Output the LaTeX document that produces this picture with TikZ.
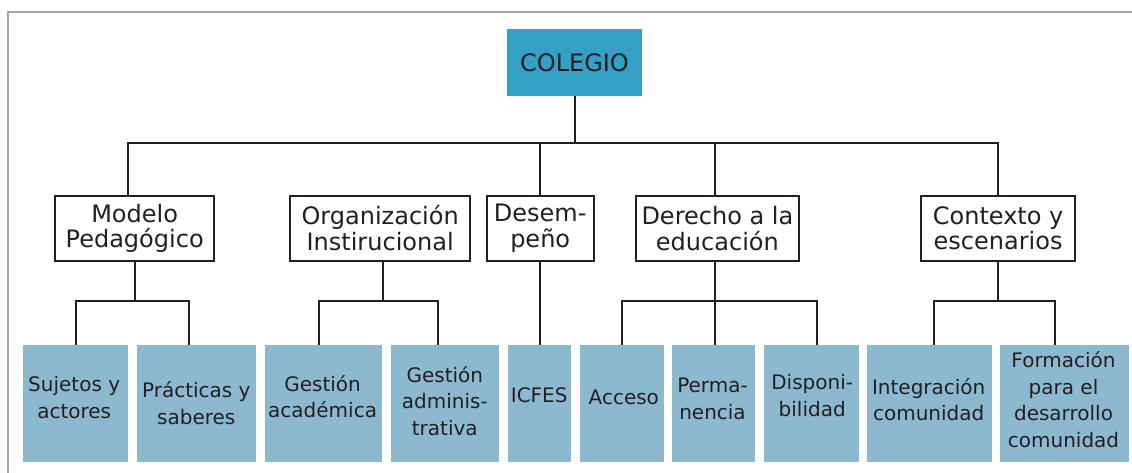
\documentclass[tikz,border=0pt]{standalone}
\usepackage{fontspec}
\setmainfont{DejaVu Sans}
\definecolor{ink}{HTML}{231F20}
\definecolor{topblue}{HTML}{35A0C5}
\definecolor{leafblue}{HTML}{8DB9D0}
\definecolor{framegray}{HTML}{A5A5A5}
\begin{document}
\begin{tikzpicture}[x=1pt,y=-1pt,
  conn/.style={draw=ink, line width=2pt},
  rootbox/.style={fill=topblue, inner sep=0pt, text=ink, font=\fontsize{24}{28}\selectfont},
  catbox/.style={draw=ink, line width=2pt, fill=white, inner sep=0pt, align=center, text=ink,
                 font=\fontsize{24}{25.7}\selectfont, minimum height=64.7pt},
  leafbox/.style={fill=leafblue, inner sep=0pt, minimum height=116.7pt},
  leaftext/.style={align=center, text=ink, inner sep=0pt, font=\fontsize{20}{26.7}\selectfont}]
\useasboundingbox (0,0) rectangle (1132,473);
% frame
\draw[framegray, line width=2pt] (8,473) -- (8,12) -- (1132,12);
% root
\node[rootbox, minimum width=135pt, minimum height=66.7pt] (colegio) at (574.5,62.4) {COLEGIO};
% categories
\node[catbox, minimum width=159.3pt] (modelo)    at (134.65,228.35) {Modelo\\Pedagógico};
\node[catbox, minimum width=179.7pt] (org)       at (380.15,228.35) {Organización\\Instirucional};
\node[catbox, minimum width=107pt]   (desempeno) at (540.2,228.35)  {Desem-\\peño};
\node[catbox, minimum width=163.2pt] (derecho)   at (717.4,228.35)  {Derecho a la\\educación};
\node[catbox, minimum width=154.2pt] (contexto)  at (998.1,228.35)  {Contexto y\\escenarios};
% leaves
\node[leafbox, minimum width=105pt]   (sujetos)   at (75.5,403.35)  {};
\node[leafbox, minimum width=119pt]   (practicas) at (196.5,403.35) {};
\node[leafbox, minimum width=116.7pt] (gacad)     at (323.35,403.35) {};
\node[leafbox, minimum width=108pt]   (gadm)      at (445,403.35)   {};
\node[leafbox, minimum width=62.4pt]  (icfes)     at (539.5,403.35) {};
\node[leafbox, minimum width=84pt]    (acceso)    at (622,403.35)   {};
\node[leafbox, minimum width=83pt]    (perm)      at (713.5,403.35) {};
\node[leafbox, minimum width=95pt]    (disp)      at (811.5,403.35) {};
\node[leafbox, minimum width=125pt]   (integ)     at (929.5,403.35) {};
\node[leafbox, minimum width=128.4pt] (form)      at (1064.5,403.35) {};
% leaf texts
\node[leaftext] (tsujetos)   at (74.2,397.5)   {Sujetos y\\actores};
\node[leaftext] (tpracticas) at (196.3,403)    {Prácticas y\\saberes};
\node[leaftext] (tgacad)     at (322.6,396.5)  {Gestión\\académica};
\node[leaftext] (tgadm)      at (444.8,401)    {Gestión\\adminis-\\trativa};
\node[leaftext] (ticfes)     at (539.2,395.7)  {ICFES};
\node[leaftext] (tacceso)    at (623.8,397.5)  {Acceso};
\node[leaftext] (tperm)      at (712.5,398.7)  {Perma-\\nencia};
\node[leaftext] (tdisp)      at (812.2,395.5)  {Disponi-\\bilidad};
\node[leaftext] (tinteg)     at (928.7,399.7)  {Integración\\comunidad};
\node[leaftext] (tform)      at (1063.5,399.7) {Formación\\para el\\desarrollo\\comunidad};
% main bus
\draw[conn] (colegio.south) -- ++(0,47.5) coordinate (bus) -| ([xshift=-6.35]modelo.north);
\draw[conn] (bus) -| (desempeno.north);
\draw[conn] (bus) -| ([xshift=-2.4]derecho.north);
\draw[conn] (bus) -| (contexto.north);
% sub buses
\draw[conn] (modelo.south) -- ++(0,39) coordinate (mb) -| (sujetos.north);
\draw[conn] (mb) -| ([xshift=-7.8]practicas.north);
\draw[conn] ([xshift=2.5]org.south) -- ++(0,39) coordinate (ob) -| ([xshift=-4.35]gacad.north);
\draw[conn] (ob) -| ([xshift=-7]gadm.north);
\draw[conn] (desempeno.south) -- (desempeno.south |- icfes.north);
\draw[conn] ([xshift=-2.4]derecho.south) -- ++(0,39) coordinate (db) -| (acceso.north);
\draw[conn] (db) -- (db |- perm.north);
\draw[conn] (db) -| ([xshift=5.2]disp.north);
\draw[conn] (contexto.south) -- ++(0,39) coordinate (cb) -| ([xshift=4.2]integ.north);
\draw[conn] (cb) -| ([xshift=-9.8]form.north);
\end{tikzpicture}
\end{document}
